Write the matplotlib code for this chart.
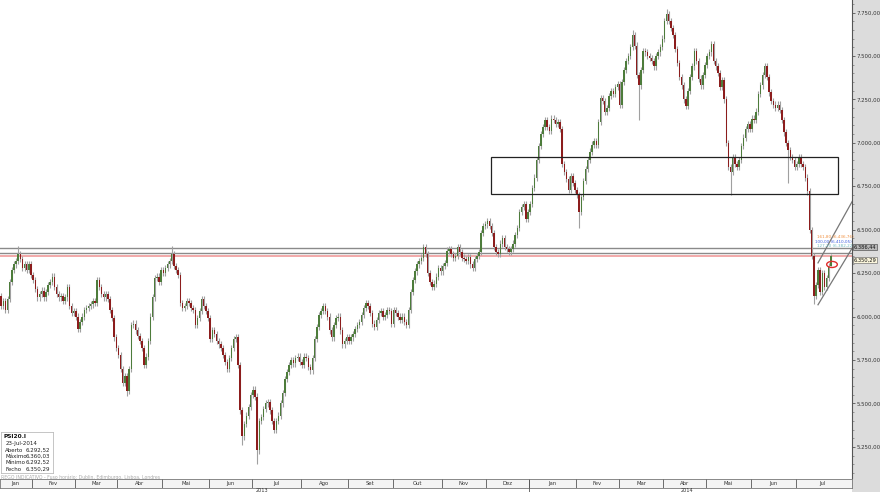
import numpy as np
import pandas as pd
import matplotlib.pyplot as plt
import matplotlib.patches as patches
from matplotlib.ticker import MultipleLocator, FuncFormatter

# Daily closes, one list per month (PSI20, Jan 2013 - Jul 2014)
closes_2013 = {
    'Jan': [6120, 6060, 6090, 6040, 6100, 6200, 6270, 6300, 6320, 6360, 6330, 6280, 6300, 6270, 6300, 6240],
    'Fev': [6210, 6160, 6110, 6130, 6150, 6110, 6140, 6180, 6200, 6230, 6170, 6130, 6110, 6120, 6090, 6110,
            6170, 6060, 6020, 6030],
    'Mar': [6000, 5930, 5970, 6000, 6040, 6050, 6060, 6070, 6090, 6080, 6210, 6170, 6130, 6110, 6130, 6100,
            6040, 5990, 5880, 5820],
    'Abr': [5780, 5700, 5620, 5660, 5570, 5700, 5950, 5960, 5920, 5890, 5860, 5820, 5720, 5770, 5860, 6000,
            6110, 6220, 6230, 6200, 6270],
    'Mai': [6250, 6280, 6300, 6320, 6360, 6290, 6270, 6240, 6080, 6050, 6060, 6090, 6080, 6050, 6040, 5950,
            5990, 6030, 6100, 6060, 6030, 5990],
    'Jun': [5870, 5920, 5900, 5860, 5840, 5820, 5780, 5740, 5700, 5760, 5820, 5870, 5880, 5720, 5460, 5310,
            5380, 5430, 5480, 5550],
    'Jul': [5580, 5540, 5230, 5400, 5420, 5470, 5500, 5510, 5460, 5400, 5350, 5400, 5430, 5500, 5560, 5640,
            5680, 5720, 5750, 5730, 5760, 5770, 5740],
    'Ago': [5720, 5770, 5760, 5710, 5690, 5760, 5870, 5940, 6010, 6030, 6060, 6030, 6000, 5920, 5880, 5950,
            5990, 6000, 5920, 5840, 5860, 5880],
    'Set': [5860, 5880, 5900, 5930, 5950, 5970, 6010, 6050, 6080, 6060, 6020, 5960, 5940, 5980, 6020, 6030,
            6000, 6010, 6040, 6030, 5960],
    'Out': [6040, 6020, 6000, 5980, 6000, 5970, 5950, 6040, 6140, 6210, 6260, 6300, 6320, 6340, 6400, 6360,
            6250, 6200, 6170, 6190, 6230, 6280, 6260],
    'Nov': [6290, 6310, 6380, 6390, 6360, 6340, 6350, 6400, 6370, 6340, 6330, 6320, 6345, 6300, 6280, 6330,
            6350, 6370, 6480, 6520, 6530],
    'Dez': [6550, 6520, 6480, 6400, 6370, 6360, 6420, 6450, 6400, 6390, 6370, 6390, 6420, 6470, 6510, 6600,
            6630, 6650, 6560, 6600],
}
closes_2014 = {
    'Jan': [6650, 6740, 6800, 6900, 6980, 7050, 7090, 7130, 7090, 7070, 7140, 7130, 7110, 7120, 7080, 6880,
            6830, 6790, 6730, 6810, 6770, 6730],
    'Fev': [6700, 6600, 6690, 6780, 6850, 6900, 6950, 6990, 7010, 6990, 7120, 7260, 7240, 7180, 7200, 7270,
            7300, 7280, 7320, 7340],
    'Mar': [7220, 7350, 7420, 7470, 7500, 7550, 7620, 7560, 7390, 7330, 7420, 7530, 7520, 7500, 7490, 7470,
            7440, 7500, 7520, 7550, 7600],
    'Abr': [7700, 7740, 7700, 7660, 7620, 7540, 7460, 7380, 7330, 7250, 7210, 7300, 7380, 7440, 7530, 7470,
            7370, 7330, 7390, 7450],
    'Mai': [7500, 7520, 7570, 7470, 7440, 7400, 7320, 7360, 7250, 7000, 6860, 6830, 6920, 6880, 6860, 6900,
            6980, 7030, 7080, 7110, 7080],
    'Jun': [7140, 7130, 7180, 7280, 7330, 7390, 7440, 7380, 7290, 7240, 7220, 7200, 7220, 7190, 7130, 7060,
            7000, 6960, 6920, 6900, 6860],
    'Jul': [6880, 6920, 6880, 6860, 6800, 6720, 6500, 6350, 6120, 6180, 6270, 6140, 6250, 6170, 6220, 6292.52,
            6350.29],
}
first_open = 6080
# a few long shadows that stand out
extreme_highs = {9: 6405, 81: 6405, 199: 6420, 297: 7650, 313: 7770, 390: 6360.03}
extreme_lows = {60: 5545, 114: 5260, 121: 5150, 272: 6510, 300: 7130, 343: 6700, 370: 6770, 382: 6075,
                390: 6292.52}

months_pt = ['Jan', 'Fev', 'Mar', 'Abr', 'Mai', 'Jun', 'Jul', 'Ago', 'Set', 'Out', 'Nov', 'Dez']
holidays = ['2013-03-29', '2013-04-01', '2013-05-01', '2013-12-25', '2013-12-26',
            '2014-01-01', '2014-04-18', '2014-04-21', '2014-05-01']
dates = pd.bdate_range('2013-01-10', '2014-07-23')
dates = dates[~dates.isin(pd.to_datetime(holidays))]

close = np.array([v for m in closes_2013.values() for v in m] + [v for m in closes_2014.values() for v in m],
                 dtype=float)
assert len(close) == len(dates)
n = len(close)
opn = np.r_[first_open, close[:-1]]
pad = 18
high = np.maximum(opn, close) + pad
low = np.minimum(opn, close) - pad
for k, v in extreme_highs.items():
    high[k] = v
for k, v in extreme_lows.items():
    low[k] = v

W, H = 880, 492
fig = plt.figure(figsize=(W / 100, H / 100), dpi=100)
fig.patch.set_facecolor('white')
PW = 852
PH = 478
ax = fig.add_axes([0, 1 - PH / H, PW / W, PH / H])
ax.set_facecolor('white')

px_per_day = 2.133
def idx(px):
    return (px + 1) / px_per_day

ax.set_xlim(idx(0), idx(PW))
ax.set_ylim(5071, 7822)

x = np.arange(n)
up = close >= opn
green, red, wick = '#4d7c3b', '#8c1d1d', '#a0a0a0'
ax.vlines(x, low, high, color=wick, lw=0.8, zorder=2)
body_h = np.maximum(np.abs(close - opn), 6)
ax.bar(x, body_h, bottom=np.minimum(opn, close), width=0.68,
       color=np.where(up, green, red), edgecolor='none', zorder=3)

# horizontal levels
ax.axhline(6392, color='#8a8a8a', lw=1.0, zorder=1)
ax.axhline(6368, color='#8a8a8a', lw=1.0, zorder=1)
ax.axhline(close[-1], color='#f2a9a9', lw=1.4, zorder=1)

# support/resistance box
ax.add_patch(patches.Rectangle((idx(491), 6706), idx(838) - idx(491), 6919 - 6706,
                               fill=False, edgecolor='#222222', lw=0.9, zorder=4))

# rising channel
ax.plot([idx(818), idx(853)], [6068, 6402], color='#777777', lw=0.9, zorder=4)
ax.plot([idx(818), idx(853)], [6309, 6671], color='#777777', lw=0.9, zorder=4)
ax.add_patch(patches.Ellipse((idx(832), 6300), 5, 35, fill=False, edgecolor='#e03030', lw=1.0, zorder=5))

# fibonacci tags
ax.text(idx(817), 6455, '161,80 (6.436,76)', fontsize=3.0, color='#f09040', zorder=6)
ax.text(idx(815), 6425, '100,00 (6.410,05)', fontsize=3.0, color='#4060e0', zorder=6)
ax.text(idx(817), 6400, '127,20 (6.382,22)', fontsize=3.0, color='#70b8c0', zorder=6)

for s in ['top', 'left', 'bottom']:
    ax.spines[s].set_visible(False)
ax.spines['right'].set_color('#555555')
ax.spines['right'].set_linewidth(0.8)
ax.set_xticks([])
ax.yaxis.tick_right()
ax.yaxis.set_major_locator(MultipleLocator(250))
ax.yaxis.set_minor_locator(MultipleLocator(50))

def pt_fmt(v, pos=None):
    return f'{v:,.2f}'.replace(',', 'X').replace('.', ',').replace('X', '.')

ax.yaxis.set_major_formatter(FuncFormatter(pt_fmt))
ax.tick_params(axis='y', which='major', length=2.5, width=0.6, color='#555555', labelsize=3.9,
               labelcolor='#333333', pad=0.6)
ax.tick_params(axis='y', which='minor', length=1.6, width=0.5, color='#777777')

# grey band behind the price scale
fig.add_artist(patches.Rectangle((PW / W, 0), 1 - PW / W, 1, transform=fig.transFigure,
                                 facecolor='#dcdcdc', edgecolor='none', zorder=-1))

# price tags on the scale
ax.text(1.002, 6398, pt_fmt(6386.44), transform=ax.get_yaxis_transform(), fontsize=3.7, va='center',
        color='#111111', bbox=dict(boxstyle='square,pad=0.1', fc='#b8b8b8', ec='#555555', lw=0.5), zorder=7,
        clip_on=False)
ax.text(1.002, close[-1] - 24, pt_fmt(close[-1]), transform=ax.get_yaxis_transform(), fontsize=3.7,
        va='center', color='#111111', bbox=dict(boxstyle='square,pad=0.1', fc='#fbf6dc', ec='#777777', lw=0.5),
        zorder=7, clip_on=False)

# info box
info = fig.add_axes([1 / W, 1 - 473 / H, 52 / W, 41 / H])
info.set_xticks([])
info.set_yticks([])
for s in info.spines.values():
    s.set_color('#bbbbbb')
    s.set_linewidth(0.6)
info.text(0.05, 0.88, 'PSI20.I', fontsize=4.2, fontweight='bold', color='#111111', va='center')
info.text(0.08, 0.72, '23-Jul-2014', fontsize=4.0, color='#222222', va='center')
rows = [('Aberto', opn[-1]), ('Máximo', high[-1]), ('Mínimo', low[-1]), ('Fecho', close[-1])]
for j, (lab, val) in enumerate(rows):
    yy = 0.56 - j * 0.155
    info.text(0.08, yy, lab, fontsize=4.0, color='#222222', va='center')
    info.text(0.95, yy, pt_fmt(val), fontsize=4.0, color='#222222', va='center', ha='right')

fig.text(1 / W, 1 - 477 / H, 'REGO INDICATIVO - Fuso horário: Dublin, Edimburgo, Lisboa, Londres',
         fontsize=3.3, color='#aaaaaa', va='center')

# month strip
dax = fig.add_axes([0, 1 - 488 / H, PW / W, 9 / H])
dax.set_xlim(ax.get_xlim())
dax.set_ylim(0, 1)
dax.set_facecolor('#f4f4f4')
dax.set_xticks([])
dax.set_yticks([])
for s in dax.spines.values():
    s.set_color('#777777')
    s.set_linewidth(0.6)
per = dates.to_period('M')
starts = np.r_[0, np.nonzero(per[1:] != per[:-1])[0] + 1]
ends = np.r_[starts[1:], n + 8]
for s0, e0 in zip(starts, ends):
    dax.axvline(s0 - 0.5, color='#555555', lw=0.6)
    mid = (max(s0, idx(0)) + min(e0, idx(PW))) / 2 - 0.5
    dax.text(mid, 0.45, months_pt[dates[s0].month - 1], fontsize=3.8, ha='center', va='center', color='#333333')

ybreak = starts[np.nonzero(dates[starts].year == 2014)[0][0]] - 0.5
fig.add_artist(plt.Line2D([(ybreak * px_per_day - 1) / W] * 2, [0, 1 - 480 / H], color='#555555', lw=0.6))
fig.text(262 / W, 1 - 490 / H, '2013', fontsize=3.6, ha='center', va='center', color='#333333')
fig.text(687 / W, 1 - 490 / H, '2014', fontsize=3.6, ha='center', va='center', color='#333333')

fig.savefig('out.png', dpi=100)
